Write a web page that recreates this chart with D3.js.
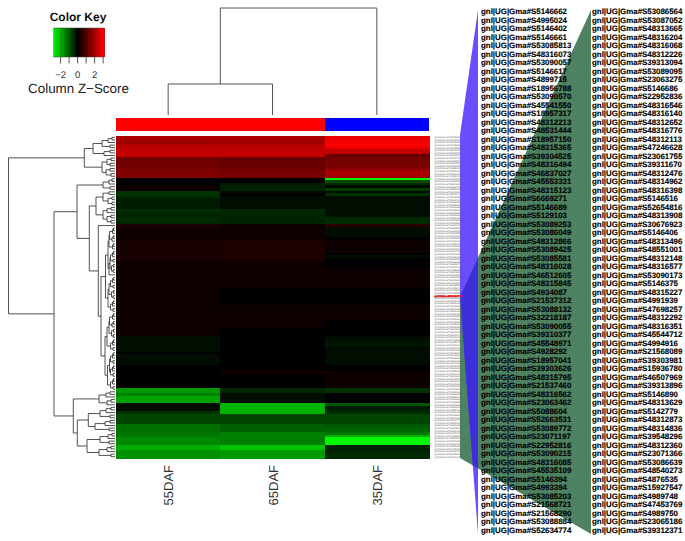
<!DOCTYPE html>
<html>
<head>
<meta charset="utf-8">
<script src="https://cdnjs.cloudflare.com/ajax/libs/d3/7.8.5/d3.min.js"></script>
<style>html,body{margin:0;padding:0;background:#fff}svg{display:block;text-rendering:geometricPrecision}</style>
</head>
<body>
<svg id="chart" width="685" height="541"></svg>
<script>
const columns = ["55DAF","65DAF","35DAF"];
const columnSide = ["#ff0000","#ff0000","#0000ff"];
const labelsLeft = ["S5146662","S4995024","S5146402","S5146661","S53085813","S48316073","S53090057","S5146617","S4899715","S18956788","S53090570","S45541550","S18957317","S48312213","S48531444","S18957150","S48315365","S39304525","S48316494","S46837027","S45553331","S48315123","S6669271","S5146689","S5129103","S53089253","S53086049","S48312866","S53089425","S53085581","S48316028","S46512605","S48315845","S4934087","S21537312","S53088132","S32218187","S53090055","S39310377","S45548971","S4928292","S18957041","S39303626","S48315795","S21537460","S48316562","S23063462","S5088604","S52663531","S53089772","S23071197","S22952816","S53090215","S48316085","S45535109","S5146394","S4993394","S53085203","S21568721","S21568290","S53088884","S52634774"];
const labelsRight = ["S53086564","S53087052","S48313665","S48316204","S48316068","S48312226","S39313094","S53089095","S23063275","S5146686","S22952836","S48316546","S48316140","S48312652","S48316776","S48312113","S47246628","S23061755","S39311670","S48312476","S48314962","S48316398","S5146516","S52654816","S48313908","S30676923","S5146406","S48313496","S48551001","S48312148","S48316577","S53090173","S5146375","S48315227","S4991939","S47698257","S48312292","S48316351","S45544712","S4994916","S21568089","S39303981","S15936780","S46507969","S39313896","S5146890","S48313629","S5142779","S48312873","S48314836","S39548296","S48312360","S23071366","S53086639","S48540273","S4876535","S15927547","S4989748","S47453769","S4989750","S23065186","S39312371"];
const labelPrefix = "gnl|UG|Gma#";
const values55 = [
2.0,2.0,1.8,2.1,2.2,2.3,2.3,2.3,1.3,1.3,
1.3,1.3,1.4,1.5,1.5,1.5,0,0,0.05,0.1,
0.1,-0.6,-0.6,-0.5,-0.3,-0.3,-0.25,-0.3,-0.55,-0.5,
-0.4,-0.5,-0.5,-0.45,0.25,0.25,0.2,0.2,0.2,0.2,
0.25,0.25,0.25,0.25,0.25,0.25,0.22,0.22,0.2,0.2,
0.2,0.18,0.18,0.2,0.2,0.18,0.18,0.16,0.16,0.16,
0.14,0.14,0.12,0.12,0.14,0.16,0.16,0.18,0.18,0.18,
0.18,0.2,0.2,0.18,0.18,0.16,0.16,-0.2,-0.2,-0.15,
-0.1,-0.1,-0.1,-0.05,-0.1,-0.1,-0.15,-0.1,-0.05,0,
0,0,0,0,0,0,0,-1.8,-1.8,-1.5,
-1.9,-1.9,-1.9,-0.1,-0.15,-0.2,-0.6,-0.8,-0.8,-0.8,
-0.8,-1.3,-1.3,-1.3,-1.35,-1.4,-1.6,-1.6,-1.6,-2.0,
-2.0,-1.7,-1.7,-1.7];
const values65 = [
2.0,2.0,1.9,2.1,2.2,2.3,2.3,2.3,1.2,1.2,
1.25,1.2,1.3,1.4,1.4,1.4,0.05,0,-0.3,-0.4,
-0.4,-0.15,-0.05,-0.1,-0.2,-0.2,-0.2,-0.2,-0.5,-0.45,
-0.45,-0.45,-0.4,-0.4,0.2,0.2,0.12,0.12,0.12,0.14,
0.35,0.35,0.35,0.35,0.35,0.35,0.35,0.35,0.2,0.2,
0.2,0.2,0.2,0.2,0.2,0.2,0.2,0.2,0.2,-0.02,
-0.03,-0.03,-0.03,-0.02,-0.02,0.12,0.12,0.14,0.12,0.1,
0.12,0.14,0.12,0.1,0.03,0.03,0.03,0.03,0.03,0.03,
0.03,0.03,0.03,0.03,0.03,0.03,0.03,0.03,0.03,0.03,
0.1,0.1,0.02,0.02,0.02,0.02,0.02,-0.45,-0.45,-0.2,
-0.2,-0.2,-0.2,-2.1,-2.1,-2.1,-2.1,-0.8,-0.8,-0.8,
-0.8,-1.1,-1.1,-1.1,-1.5,-1.5,-1.5,-1.5,-1.5,-2.3,
-2.3,-1.8,-1.8,-1.8];
const values35 = [
2.8,2.8,2.9,3.0,2.8,2.3,2.3,1.2,1.4,1.4,
1.4,1.4,1.6,2.0,2.0,1.9,-2.9,-0.9,-0.5,-0.2,
-0.7,-0.15,-0.6,-0.1,-0.1,-0.1,-0.1,-0.1,-0.1,-0.1,
-0.1,-0.5,-0.5,-0.5,0.5,-0.1,-0.2,-0.1,-0.1,0.05,
0.15,0.15,0.15,0.12,0.12,-0.05,-0.1,-0.05,0,0,
0,0.1,0.12,0.08,0.1,0.14,0.12,0.14,0.12,-0.05,
-0.05,-0.03,-0.03,-0.02,-0.03,0.12,0.14,0.12,0.14,0.12,
0.12,0.03,0.03,0.03,0.03,0.03,0.03,-0.2,-0.2,-0.25,
-0.35,-0.15,-0.15,-0.15,-0.15,-0.15,-0.15,-0.12,0.02,0.05,
0.1,0.1,0.1,0.1,0.1,0.1,0.1,-0.6,-0.6,0.05,
0.05,0.05,0.05,-1.0,-0.3,-0.4,-0.5,-0.8,-0.8,-0.8,
-0.8,-1.0,-1.1,-1.2,-1.4,-2.0,-2.9,-2.9,-2.9,-0.4,
-0.4,-0.4,-0.5,-0.5];
const keyTicks = [-2,-1,0,1,2,3];
const keyTickLabels = [-2,0,2];

// dendrograms: [merge height, child, child]; 0 is a leaf
const colTree = [100,[29,0,0],0];
const p2=[1.5,0,0], p3=[2.5,p2,0], p4=[3.5,p2,[1.8,0,0]], p5=[4.5,p3,[2,0,0]], p6=[5.5,p3,[3,[1.6,0,0],0]];
const g18=[7,[6,p6,p3],[6,[5,p5,p4],0]];
const g14=[7,[6,p5,p4],p5];
const g15=[8,[6,p6,p4],p5];
const g15b=[7.5,[5.5,p5,p5],p5];
const top8=[22,[13,[7,[3,0,0],0],[5,0,0]],[11,[5,0,0],0]];
const sec8=[13,[8,[4,0,0],[5,0,0]],[9,[5,0,0],[4,0,0]]];
const r16=[12,[6,[3,0,0],0],[5,0,0]];
const r21=[19,[12,[6,0,0],[7,[3,0,0],[3,0,0]]],[12,[8,[4,0,0],0],[8,[4,0,0],[4,0,0]]]];
const r34=[16.7,0,[14,[9.5,g18,g14],[10,g15,g15b]]];
const r97=[16,[9,[5,0,0],0],[8,[4,0,0],0]];
const r103=[26.7,[15,[9,[4,0,0],0],[5,0,0]],[20,[10,[5,0,0],0],[6,0,0]]];
const r113=[28,[15,[7,[3,0,0],0],[6,0,0]],[16,[8,[4,0,0],0],[9,[4,0,0],0]]];
const rowTree=[106.5,[30.7,top8,sec8],[61,[38,r16,[25.7,r21,r34]],[41.7,r97,[37.7,r103,r113]]]];

const allLabels = labelsLeft.concat(labelsRight);
const heat = [values55, values65, values35];
const svg = d3.select("#chart");
const font = "'Liberation Sans', Arial, sans-serif";
svg.style("font-family", font);

const x = d3.scaleBand().domain(d3.range(columns.length)).range([116,429]);
const y = d3.scaleBand().domain(d3.range(allLabels.length)).range([136,458]);
const color = d3.scaleLinear().domain([-3,0,3]).range(["#00ff00","#000000","#ff0000"]).clamp(true);

// ribbons
const defs = svg.append("defs");
const soft = defs.append("filter").attr("id","soft").attr("x","-5%").attr("y","-5%").attr("width","110%").attr("height","110%");
soft.append("feGaussianBlur").attr("stdDeviation","0.3 0.45");
const purple = [[478,10],[460,135],[460,297],[478,534]];
const green = [[591,10],[591,534],[460,458],[460,297]];
const line = d3.line();
defs.append("clipPath").attr("id","purpleClip").append("path").attr("d",line(purple)+"Z");
svg.append("path").attr("d",line(green)+"Z").attr("fill","#4e8261");
svg.append("path").attr("d",line(purple)+"Z").attr("fill","#6b4dff");
svg.append("path").attr("d",line(green)+"Z").attr("fill","#3c2ed8").attr("clip-path","url(#purpleClip)");

// heat map
const hm = svg.append("g").attr("shape-rendering","crispEdges").attr("filter","url(#soft)");
heat.forEach((col,c)=>{
  hm.selectAll(null).data(col).enter().append("rect")
    .attr("x",x(c)).attr("width",x.bandwidth()+0.5)
    .attr("y",(d,i)=>y(i)).attr("height",y.bandwidth()+0.5)
    .attr("fill",d=>color(d));
});
// side colours
svg.append("g").attr("shape-rendering","crispEdges").selectAll("rect").data(columnSide).enter().append("rect")
  .attr("x",(d,i)=>x(i)).attr("width",x.bandwidth()).attr("y",118).attr("height",13).attr("fill",d=>d);

// dendrograms
const tree = d3.hierarchy(rowTree,d=>Array.isArray(d)?d.slice(1):null);
const rowH = d3.scaleLinear().domain([0,106.5]).range([115,8.5]);
let n=0;
tree.eachAfter(d=>{
  if(!d.children){d.py=y(n)+y.bandwidth()/2;d.px=rowH(0);n++;}
  else{d.py=d3.mean(d.children,c=>c.py);d.px=rowH(d.data[0]);}
});
const dg = svg.append("g").attr("fill","none").attr("stroke","#333").attr("stroke-width",0.85);
dg.selectAll("path").data(tree.descendants().filter(d=>d.children)).enter().append("path")
  .attr("d",d=>{const a=d.children[0],b=d.children[1];
    return `M${a.px},${a.py}H${d.px}V${b.py}H${b.px}`;});

const colT = d3.hierarchy(colTree,d=>Array.isArray(d)?d.slice(1):null);
const colH = d3.scaleLinear().domain([0,100]).range([115,8]);
let m=0;
colT.eachAfter(d=>{
  if(!d.children){d.px=x(m)+x.bandwidth()/2;d.py=colH(0);m++;}
  else{d.px=d3.mean(d.children,c=>c.px);d.py=colH(d.data[0]);}
});
const dc = svg.append("g").attr("fill","none").attr("stroke","#555").attr("stroke-width",1);
dc.selectAll("path").data(colT.descendants().filter(d=>d.children)).enter().append("path")
  .attr("d",d=>{const a=d.children[0],b=d.children[1];
    return `M${a.px},${a.py}V${d.py}H${b.px}V${b.py}`;});

// column labels
svg.selectAll(".cl").data(columns).enter().append("text").attr("class","cl")
  .attr("transform",(d,i)=>`translate(${x(i)+x.bandwidth()/2+5},465) rotate(-90)`)
  .attr("text-anchor","end").attr("font-size",13).attr("fill","#333").text(d=>d);

// tiny row labels
svg.append("g").attr("font-size",2.45).attr("fill","#666").selectAll("text").data(allLabels).enter().append("text")
  .attr("x",434.5).attr("y",(d,i)=>y(i)+y.bandwidth()/2+0.9)
  .attr("fill",(d,i)=>i===61?"#e01818":null)
  .attr("stroke",(d,i)=>i===61?"#e01818":null).attr("stroke-width",0.5)
  .text(d=>labelPrefix+d);

// big label lists
const ly = d3.scalePoint().domain(d3.range(labelsLeft.length)).range([11.5,530]);
[[labelsLeft,481],[labelsRight,592]].forEach(([list,px])=>{
  svg.append("g").attr("font-size",7.9).attr("font-weight","bold").attr("fill","#000")
    .attr("stroke","#000").attr("stroke-width",0.12)
    .selectAll("text").data(list).enter().append("text")
    .attr("x",px).attr("y",(d,i)=>ly(i)).attr("dy","0.35em").text(d=>labelPrefix+d);
});

// colour key
const keyX = d3.scaleLinear().domain([-2.83,3.1]).range([53.5,104]);
const keyVals = d3.range(-2.83,3.1,0.1);
svg.append("g").attr("shape-rendering","crispEdges").selectAll("rect").data(keyVals).enter().append("rect")
  .attr("x",d=>keyX(d)).attr("width",1.2).attr("y",28).attr("height",29).attr("fill",d=>color(d));
svg.append("rect").attr("x",53.5).attr("y",28).attr("width",50.5).attr("height",29).attr("fill","none").attr("stroke","#444").attr("stroke-width",0.5);
const keyAxis = svg.append("g").attr("stroke","#444").attr("stroke-width",0.9);
keyAxis.selectAll("line").data(keyTicks).enter().append("line")
  .attr("x1",d=>keyX(d)).attr("x2",d=>keyX(d)).attr("y1",57).attr("y2",63.5);
svg.selectAll(".kt").data(keyTickLabels).enter().append("text").attr("class","kt")
  .attr("x",d=>keyX(d)).attr("y",78).attr("text-anchor","middle").attr("font-size",9.5).attr("fill","#333")
  .text(d=>d<0?"\u2212"+Math.abs(d):d);
svg.append("text").attr("x",78).attr("y",21).attr("text-anchor","middle").attr("font-size",12).attr("font-weight","bold").attr("fill","#111").text("Color Key");
svg.append("text").attr("x",78.5).attr("y",92.5).attr("text-anchor","middle").attr("font-size",13.4).attr("fill","#222").text("Column Z\u2212Score");
</script>
</body>
</html>
